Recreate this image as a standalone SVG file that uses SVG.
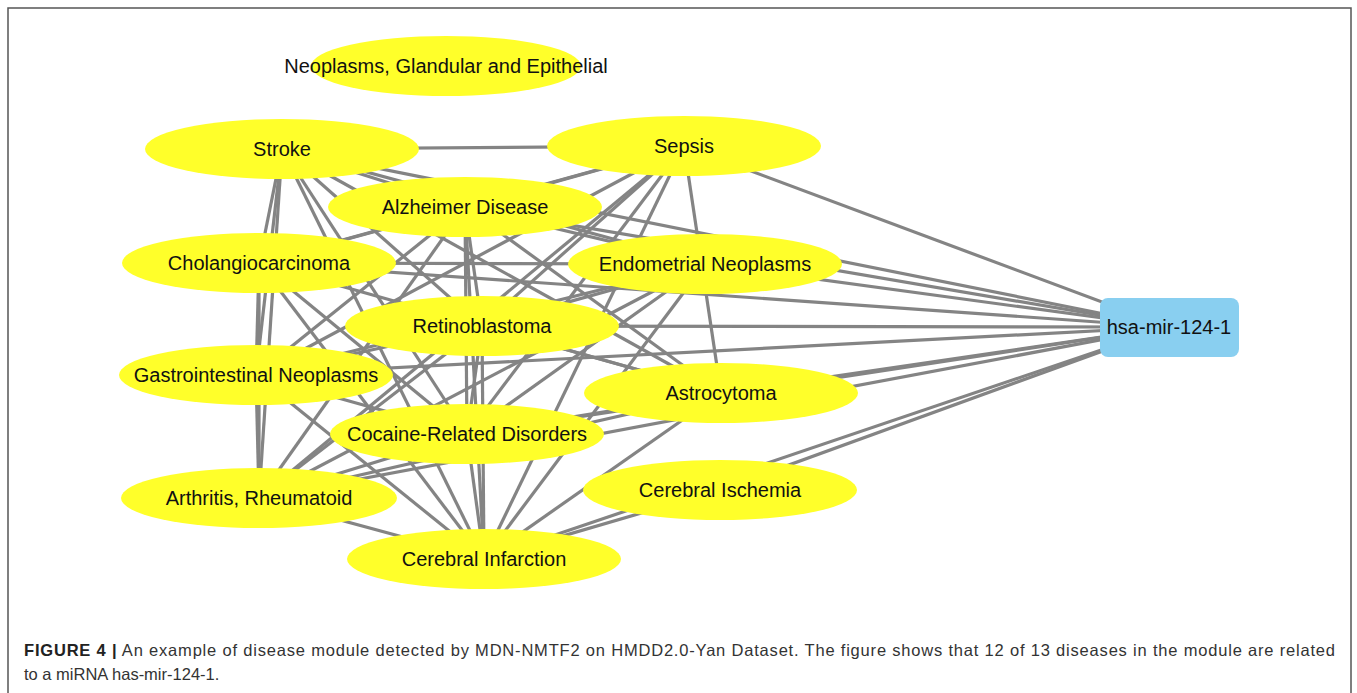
<svg xmlns="http://www.w3.org/2000/svg" width="1357" height="693" viewBox="0 0 1357 693">
<style>
.e line{stroke:#848484;stroke-width:3.2}
.n ellipse{fill:#ffff2a}
.n text{font-family:"Liberation Sans",Arial,sans-serif;font-size:20px;fill:#111;text-anchor:middle;dominant-baseline:central}
.cap{font-family:"Liberation Sans",Arial,sans-serif;font-size:16.5px;fill:#333}
</style>
<rect x="8" y="8" width="1343" height="700" fill="#fff" stroke="#555" stroke-width="1.5"/>
<g id="connectors" class="e">
<!-- to hsa -->
<line x1="282" y1="149" x2="1169" y2="327"/>
<line x1="684" y1="146" x2="1169" y2="327"/>
<line x1="465" y1="207" x2="1169" y2="327"/>
<line x1="259" y1="263" x2="1169" y2="327"/>
<line x1="705" y1="264" x2="1169" y2="327"/>
<line x1="482" y1="326" x2="1169" y2="327"/>
<line x1="256" y1="375" x2="1169" y2="327"/>
<line x1="721" y1="393" x2="1169" y2="327"/>
<line x1="467" y1="434" x2="1169" y2="327"/>
<line x1="259" y1="498" x2="1169" y2="327"/>
<line x1="720" y1="490" x2="1169" y2="327"/>
<line x1="484" y1="559" x2="1169" y2="327"/>
<!-- Stroke -->
<line x1="282" y1="149" x2="684" y2="146"/>
<line x1="282" y1="149" x2="259" y2="263"/>
<line x1="282" y1="149" x2="256" y2="375"/>
<line x1="282" y1="149" x2="259" y2="498"/>
<line x1="282" y1="149" x2="465" y2="207"/>
<line x1="282" y1="149" x2="705" y2="264"/>
<line x1="282" y1="149" x2="482" y2="326"/>
<line x1="282" y1="149" x2="721" y2="393"/>
<line x1="282" y1="149" x2="467" y2="434"/>
<line x1="282" y1="149" x2="484" y2="559"/>
<!-- Sepsis -->
<line x1="684" y1="146" x2="465" y2="207"/>
<line x1="684" y1="146" x2="259" y2="263"/>
<line x1="684" y1="146" x2="482" y2="326"/>
<line x1="684" y1="146" x2="256" y2="375"/>
<line x1="684" y1="146" x2="467" y2="434"/>
<line x1="684" y1="146" x2="259" y2="498"/>
<line x1="684" y1="146" x2="721" y2="393"/>
<line x1="684" y1="146" x2="484" y2="559"/>
<!-- Alzheimer -->
<line x1="465" y1="207" x2="705" y2="264"/>
<line x1="465" y1="207" x2="482" y2="326"/>
<line x1="465" y1="207" x2="467" y2="434"/>
<line x1="465" y1="207" x2="484" y2="559"/>
<line x1="465" y1="207" x2="721" y2="393"/>
<line x1="465" y1="207" x2="256" y2="375"/>
<line x1="465" y1="207" x2="259" y2="498"/>
<line x1="465" y1="207" x2="259" y2="263"/>
<!-- Cholangiocarcinoma -->
<line x1="259" y1="263" x2="705" y2="264"/>
<line x1="259" y1="263" x2="721" y2="393"/>
<line x1="259" y1="263" x2="467" y2="434"/>
<line x1="259" y1="263" x2="484" y2="559"/>
<line x1="259" y1="263" x2="256" y2="375"/>
<line x1="259" y1="263" x2="259" y2="498"/>
<!-- Gastrointestinal -->
<line x1="256" y1="375" x2="482" y2="326"/>
<line x1="256" y1="375" x2="467" y2="434"/>
<line x1="256" y1="375" x2="705" y2="264"/>
<line x1="256" y1="375" x2="484" y2="559"/>
<line x1="256" y1="375" x2="259" y2="498"/>
<!-- Arthritis -->
<line x1="259" y1="498" x2="482" y2="326"/>
<line x1="259" y1="498" x2="705" y2="264"/>
<line x1="259" y1="498" x2="467" y2="434"/>
<line x1="259" y1="498" x2="721" y2="393"/>
<line x1="259" y1="498" x2="484" y2="559"/>
<!-- Retinoblastoma -->
<line x1="482" y1="326" x2="705" y2="264"/>
<line x1="482" y1="326" x2="721" y2="393"/>
<line x1="482" y1="326" x2="467" y2="434"/>
<line x1="482" y1="326" x2="484" y2="559"/>
<!-- Endometrial -->
<line x1="705" y1="264" x2="467" y2="434"/>
<line x1="705" y1="264" x2="484" y2="559"/>
<!-- Astrocytoma / Cocaine / Ischemia -->
<line x1="721" y1="393" x2="467" y2="434"/>
<line x1="721" y1="393" x2="484" y2="559"/>
<line x1="467" y1="434" x2="484" y2="559"/>
<line x1="720" y1="490" x2="484" y2="559"/>
</g>
<g id="n-neoplasms" class="n"><ellipse cx="446" cy="66" rx="135" ry="30"/><text x="446" y="66">Neoplasms, Glandular and Epithelial</text></g>
<g id="n-stroke" class="n"><ellipse cx="282" cy="149" rx="137" ry="30"/><text x="282" y="149">Stroke</text></g>
<g id="n-sepsis" class="n"><ellipse cx="684" cy="146" rx="137" ry="30"/><text x="684" y="146">Sepsis</text></g>
<g id="n-alzheimer" class="n"><ellipse cx="465" cy="207" rx="137" ry="30"/><text x="465" y="207">Alzheimer Disease</text></g>
<g id="n-cholangio" class="n"><ellipse cx="259" cy="263" rx="137" ry="30"/><text x="259" y="263">Cholangiocarcinoma</text></g>
<g id="n-endometrial" class="n"><ellipse cx="705" cy="264" rx="137" ry="30"/><text x="705" y="264">Endometrial Neoplasms</text></g>
<g id="n-retino" class="n"><ellipse cx="482" cy="326" rx="137" ry="30"/><text x="482" y="326">Retinoblastoma</text></g>
<g id="n-gastro" class="n"><ellipse cx="256" cy="375" rx="137" ry="30"/><text x="256" y="375">Gastrointestinal Neoplasms</text></g>
<g id="n-astro" class="n"><ellipse cx="721" cy="393" rx="137" ry="30"/><text x="721" y="393">Astrocytoma</text></g>
<g id="n-cocaine" class="n"><ellipse cx="467" cy="434" rx="137" ry="30"/><text x="467" y="434">Cocaine-Related Disorders</text></g>
<g id="n-arthritis" class="n"><ellipse cx="259" cy="498" rx="138" ry="30"/><text x="259" y="498">Arthritis, Rheumatoid</text></g>
<g id="n-ischemia" class="n"><ellipse cx="720" cy="490" rx="137" ry="30"/><text x="720" y="490">Cerebral Ischemia</text></g>
<g id="n-infarction" class="n"><ellipse cx="484" cy="559" rx="137" ry="30"/><text x="484" y="559">Cerebral Infarction</text></g>
<g id="n-hsa" class="n"><rect x="1100" y="298" width="139" height="59" rx="8" fill="#89cff0"/><text x="1169" y="327">hsa-mir-124-1</text></g>
<g id="caption">
<text class="cap" x="24" y="656" textLength="1311" lengthAdjust="spacing"><tspan font-weight="bold" fill="#222">FIGURE 4 |</tspan> An example of disease module detected by MDN-NMTF2 on HMDD2.0-Yan Dataset. The figure shows that 12 of 13 diseases in the module are related</text>
<text class="cap" x="24" y="680">to a miRNA has-mir-124-1.</text>
</g>
</svg>
